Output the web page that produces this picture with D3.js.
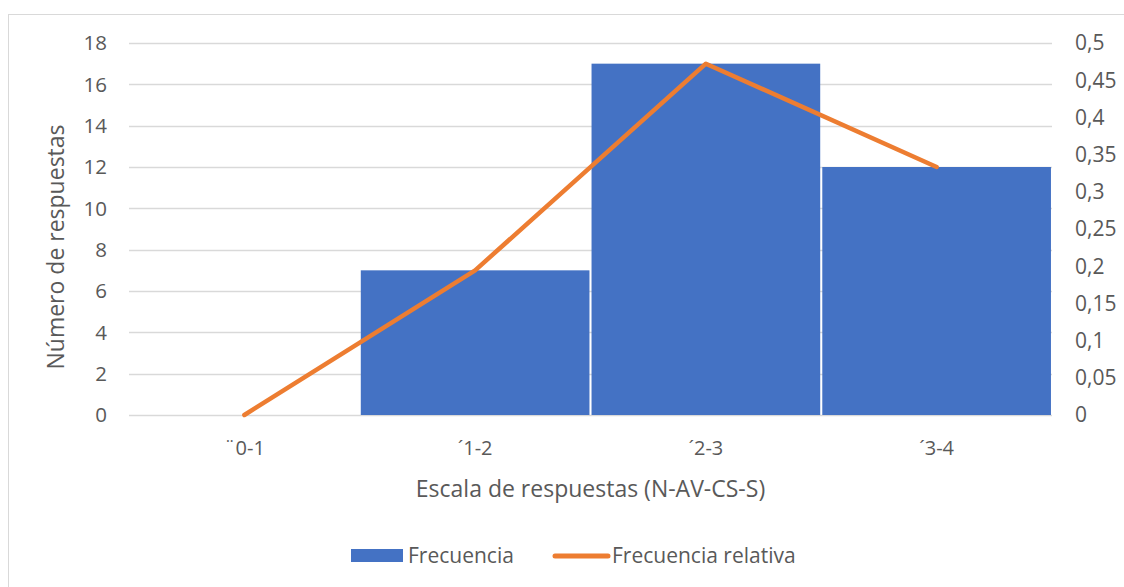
<!DOCTYPE html>
<html>
<head>
<meta charset="utf-8">
<script src="https://cdn.jsdelivr.net/npm/d3@7"></script>
<style>
  html, body { margin: 0; padding: 0; background: #fff; }
  svg { display: block; font-family: "Open Sans", "Liberation Sans", sans-serif; }
</style>
</head>
<body>
<svg id="chart" width="1124" height="587"></svg>
<script>
// Response-scale categories and counts
const categories = ["¨0-1", "´1-2", "´2-3", "´3-4"];
const frecuencia = [0, 7, 17, 12];
const frecuenciaRelativa = [0, 0.1944, 0.4722, 0.3333];
const leftTicks = [0, 2, 4, 6, 8, 10, 12, 14, 16, 18];
const rightTicks = [0, 0.05, 0.1, 0.15, 0.2, 0.25, 0.3, 0.35, 0.4, 0.45, 0.5];

const svg = d3.select("#chart");
const textColor = "#595959";
const gridColor = "#d9d9d9";

// outer chart frame
svg.append("rect")
  .attr("x", 8.5).attr("y", 14.5)
  .attr("width", 1130).attr("height", 600)
  .attr("fill", "none").attr("stroke", gridColor).attr("stroke-width", 1);

const plot = { left: 129, right: 1052, top: 43, bottom: 415 };

const x = d3.scaleBand().domain(categories)
  .range([plot.left, plot.right]).paddingInner(0.009).paddingOuter(0.0045);
const yL = d3.scaleLinear().domain([0, 18]).range([plot.bottom, plot.top]);
const yR = d3.scaleLinear().domain([0, 0.5]).range([plot.bottom, plot.top]);

// horizontal gridlines
svg.append("g").selectAll("line").data(leftTicks).join("line")
  .attr("x1", plot.left).attr("x2", plot.right)
  .attr("y1", d => Math.round(yL(d)) + 0.5).attr("y2", d => Math.round(yL(d)) + 0.5)
  .attr("stroke", gridColor).attr("stroke-width", 1.3);

// left axis labels
svg.append("g").selectAll("text").data(leftTicks).join("text")
  .attr("x", 107).attr("y", d => yL(d))
  .attr("dy", "0.35em").attr("text-anchor", "end")
  .attr("font-size", 20.5).attr("fill", textColor)
  .text(d => d);

// right axis labels
const fmtR = d => String(d).replace(".", ",");
svg.append("g").selectAll("text").data(rightTicks).join("text")
  .attr("x", 1075).attr("y", d => yR(d))
  .attr("dy", "0.35em").attr("text-anchor", "start")
  .attr("font-size", 21).attr("fill", textColor)
  .text(fmtR);

// bars
svg.append("g").selectAll("rect").data(categories).join("rect")
  .attr("x", d => x(d))
  .attr("y", (d, i) => yL(frecuencia[i]))
  .attr("width", x.bandwidth())
  .attr("height", (d, i) => yL(0) - yL(frecuencia[i]))
  .attr("fill", "#4472C4");

// relative frequency line
const line = d3.line()
  .x((d, i) => x(categories[i]) + x.bandwidth() / 2)
  .y(d => yR(d));
svg.append("path").datum(frecuenciaRelativa)
  .attr("d", line)
  .attr("fill", "none").attr("stroke", "#ED7D31")
  .attr("stroke-width", 4.5).attr("stroke-linejoin", "round").attr("stroke-linecap", "round");

// category labels
svg.append("g").selectAll("text").data(categories).join("text")
  .attr("x", d => x(d) + x.bandwidth() / 2).attr("y", 448)
  .attr("dy", "0.35em").attr("text-anchor", "middle")
  .attr("font-size", 20).attr("fill", textColor)
  .text(d => d);

// axis titles
svg.append("text")
  .attr("x", (plot.left + plot.right) / 2).attr("y", 489)
  .attr("dy", "0.35em").attr("text-anchor", "middle")
  .attr("font-size", 23).attr("fill", textColor)
  .text("Escala de respuestas (N-AV-CS-S)");

svg.append("text")
  .attr("transform", "translate(56,247) rotate(-90)")
  .attr("dy", "0.35em").attr("text-anchor", "middle")
  .attr("font-size", 23).attr("fill", textColor)
  .text("Número de respuestas");

// legend
const legend = svg.append("g");
legend.append("rect")
  .attr("x", 351).attr("y", 549).attr("width", 52).attr("height", 13)
  .attr("fill", "#4472C4");
legend.append("text")
  .attr("x", 408).attr("y", 556).attr("dy", "0.35em")
  .attr("font-size", 21).attr("fill", textColor)
  .text("Frecuencia");
legend.append("line")
  .attr("x1", 555).attr("x2", 608).attr("y1", 556).attr("y2", 556)
  .attr("stroke", "#ED7D31").attr("stroke-width", 5).attr("stroke-linecap", "round");
legend.append("text")
  .attr("x", 612).attr("y", 556).attr("dy", "0.35em")
  .attr("font-size", 21).attr("fill", textColor)
  .text("Frecuencia relativa");
</script>
</body>
</html>
